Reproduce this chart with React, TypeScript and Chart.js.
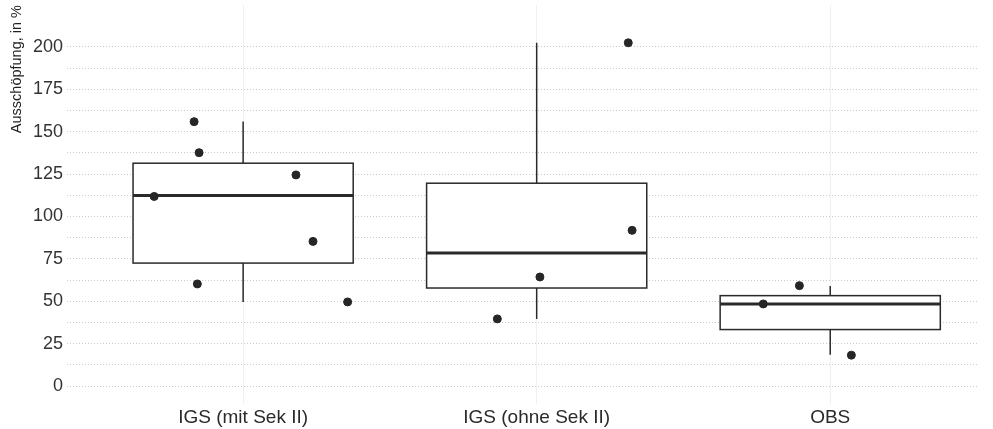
import React, { useEffect, useRef } from "react";
import { Chart, registerables } from "chart.js";

Chart.register(...registerables);

const categories = ["IGS (mit Sek II)", "IGS (ohne Sek II)", "OBS"];

// box statistics per category
const whiskerLow = [49.6, 39.6, 18.5];
const quartile1 = [72.5, 57.8, 33.3];
const medians = [112.4, 78.4, 48.4];
const quartile3 = [131.4, 119.6, 53.3];
const whiskerHigh = [156, 202.4, 59];

// individual observations (category index, jitter offset, value)
const pointGroup = [0, 0, 0, 0, 0, 0, 0, 1, 1, 1, 1, 2, 2, 2];
const pointJitter = [-0.167, -0.15, 0.18, -0.303, 0.238, -0.156, 0.356, 0.312, 0.325, 0.011, -0.134, -0.105, -0.228, 0.072];
const pointValue = [155.9, 137.6, 124.5, 111.8, 85.3, 60.2, 49.6, 202.4, 91.8, 64.3, 39.6, 59.2, 48.4, 18.2];

const yTickValues = [0, 12.5, 25, 37.5, 50, 62.5, 75, 87.5, 100, 112.5, 125, 137.5, 150, 162.5, 175, 187.5, 200];
const yAxisTitle = "Ausschöpfung, in %";

const FONT = "'Liberation Sans', Arial, sans-serif";

const boxPlugin = {
  id: "boxplotBoxes",
  beforeDatasetsDraw(chart: any) {
    const { ctx, scales } = chart;
    const xs = scales.x;
    const ys = scales.y;
    const half = 0.375;
    ctx.save();
    for (let i = 0; i < categories.length; i++) {
      const xl = xs.getPixelForValue(i - half);
      const xr = xs.getPixelForValue(i + half);
      const xc = xs.getPixelForValue(i);
      const yq1 = ys.getPixelForValue(quartile1[i]);
      const yq3 = ys.getPixelForValue(quartile3[i]);
      const ym = ys.getPixelForValue(medians[i]);
      const ylo = ys.getPixelForValue(whiskerLow[i]);
      const yhi = ys.getPixelForValue(whiskerHigh[i]);
      ctx.strokeStyle = "#2a2a2a";
      ctx.lineWidth = 1.5;
      ctx.beginPath();
      ctx.moveTo(xc, yq3);
      ctx.lineTo(xc, yhi);
      ctx.moveTo(xc, yq1);
      ctx.lineTo(xc, ylo);
      ctx.stroke();
      ctx.fillStyle = "#ffffff";
      ctx.fillRect(xl, yq3, xr - xl, yq1 - yq3);
      ctx.strokeRect(xl, yq3, xr - xl, yq1 - yq3);
      ctx.lineWidth = 3;
      ctx.beginPath();
      ctx.moveTo(xl, ym);
      ctx.lineTo(xr, ym);
      ctx.stroke();
    }
    ctx.restore();
  },
};

export default function App() {
  const canvasRef = useRef<HTMLCanvasElement | null>(null);

  useEffect(() => {
    document.body.style.margin = "0";
    const canvas = canvasRef.current;
    if (!canvas) return;
    const points = pointValue.map((v, i) => ({ x: pointGroup[i] + pointJitter[i], y: v }));
    const chart = new Chart(canvas, {
      type: "scatter",
      data: {
        datasets: [
          {
            data: points,
            backgroundColor: "#262626",
            borderColor: "#262626",
            pointRadius: 4,
            pointHoverRadius: 4,
          },
        ],
      },
      options: {
        animation: false,
        responsive: true,
        maintainAspectRatio: false,
        layout: { padding: { top: 3, right: 16, left: 0, bottom: 0 } },
        plugins: { legend: { display: false }, tooltip: { enabled: false } },
        scales: {
          x: {
            type: "linear",
            min: -0.6,
            max: 2.5,
            afterBuildTicks: (s: any) => {
              s.ticks = categories.map((_, i) => ({ value: i }));
            },
            afterFit: (s: any) => {
              s.height = 25;
              s.paddingLeft = 0;
              s.paddingRight = 0;
            },
            ticks: {
              padding: 2,
              color: "#2a2a2a",
              font: { family: FONT, size: 19 },
              callback: (v: any) => categories[Math.round(Number(v))] ?? "",
            },
            grid: { color: "rgba(0,0,0,0.06)", drawTicks: false },
            border: { display: false },
          },
          y: {
            type: "linear",
            min: -10.6,
            max: 224.7,
            afterBuildTicks: (s: any) => {
              s.ticks = yTickValues.map((v) => ({ value: v }));
            },
            afterFit: (s: any) => {
              s.width = 67;
              s.paddingTop = 0;
              s.paddingBottom = 0;
            },
            ticks: {
              padding: 4,
              color: "#333333",
              font: { family: FONT, size: 18 },
              autoSkip: false,
              callback: (v: any) => (Number(v) % 25 === 0 ? String(v) : ""),
            },
            grid: { color: "rgba(150,150,150,0.5)", lineWidth: 1, drawTicks: false },
            border: { display: false, dash: [1, 2] },
            title: {
              display: true,
              text: yAxisTitle,
              align: "end",
              color: "#222222",
              font: { family: FONT, size: 14.5 },
              padding: { top: 8, bottom: 0 },
            },
          },
        },
      },
      plugins: [boxPlugin],
    } as any);
    return () => chart.destroy();
  }, []);

  return (
    <div style={{ width: 993, height: 429, position: "relative" }}>
      <canvas ref={canvasRef} />
    </div>
  );
}
